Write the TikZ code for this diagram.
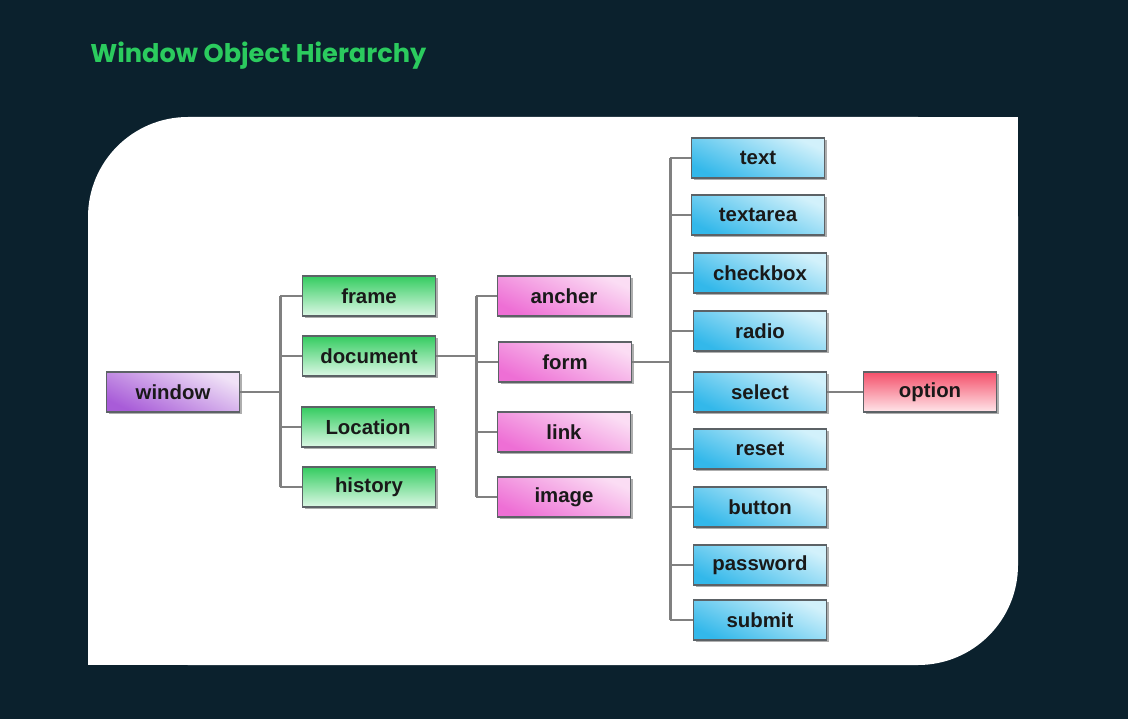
\documentclass[tikz,border=0pt]{standalone}
\usepackage{fontspec}
\setmainfont{Liberation Sans}
\newfontfamily\titlefont{Poppins}
\usetikzlibrary{shadows}

\definecolor{bgnavy}{HTML}{0B212D}
\definecolor{titlegreen}{HTML}{2BCB5E}
\definecolor{linkgray}{HTML}{808080}
\definecolor{boxedge}{HTML}{5C6266}
\definecolor{purpledark}{HTML}{A85CD8}
\definecolor{purplelight}{HTML}{F0E2F7}
\definecolor{greendark}{HTML}{34CC60}
\definecolor{greenlight}{HTML}{DDF8E6}
\definecolor{pinkdark}{HTML}{EE6FD5}
\definecolor{pinklight}{HTML}{FBDDF4}
\definecolor{bluedark}{HTML}{33B8EA}
\definecolor{bluelight}{HTML}{D2F1FB}
\definecolor{reddark}{HTML}{F4506A}
\definecolor{redlight}{HTML}{FFE6EA}

\tikzset{
  box/.style={draw=boxedge, line width=1.1pt, minimum width=2.66cm, minimum height=0.8cm,
    inner sep=0pt, text=black!90, font=\bfseries\fontsize{11.6}{13}\selectfont,
    drop shadow={shadow xshift=1.3pt, shadow yshift=-1.3pt, opacity=0.45, fill=black!70}},
  winbox/.style={box, bottom color=purpledark, top color=purplelight, shading angle=-25},
  greenbox/.style={box, top color=greendark, bottom color=greenlight},
  pinkbox/.style={box, bottom color=pinkdark, top color=pinklight, shading angle=-25},
  bluebox/.style={box, bottom color=bluedark, top color=bluelight, shading angle=-25},
  redbox/.style={box, top color=reddark, bottom color=redlight},
  link/.style={draw=linkgray, line width=1.3pt},
}

\begin{document}
\begin{tikzpicture}[x=0.02cm, y=-0.02cm]
  % Background and panel
  \fill[bgnavy] (0,0) rectangle (1128,719);
  \useasboundingbox (0,0) rectangle (1128,719);
  \fill[white, rounded corners=2cm] (88,117) rectangle (1018,665);
  \fill[white] (918,117) rectangle (1018,217);
  \fill[white] (88,565) rectangle (188,665);

  % Title
  \node[anchor=west, inner sep=0pt, text=titlegreen, font=\titlefont\bfseries\fontsize{14.6}{17}\selectfont]
    (title) at (90,56) {Window Object Hierarchy};

  % Root
  \node[winbox] (window) at (173,392) {window};

  % Level 1 (green)
  \node[greenbox] (frame)    at (369,296) {frame};
  \node[greenbox] (document) at (369,356) {document};
  \node[greenbox] (location) at (368,427) {Location};
  \node[greenbox] (history)  at (369,487) {history};

  % Level 2 (pink)
  \node[pinkbox] (ancher) at (564,296) {ancher};
  \node[pinkbox] (form)   at (565,362) {form};
  \node[pinkbox] (link)   at (564,432) {link};
  \node[pinkbox] (image)  at (564,497) {image};

  % Level 3 (blue)
  \node[bluebox] (text)     at (758,158) {text};
  \node[bluebox] (textarea) at (758,215) {textarea};
  \node[bluebox] (checkbox) at (760,273) {checkbox};
  \node[bluebox] (radio)    at (760,331) {radio};
  \node[bluebox] (select)   at (760,392) {select};
  \node[bluebox] (reset)    at (760,449) {reset};
  \node[bluebox] (button)   at (760,507) {button};
  \node[bluebox] (password) at (760,565) {password};
  \node[bluebox] (submit)   at (760,620) {submit};

  % Level 4 (red)
  \node[redbox] (option) at (930,392) {option};

  % Connectors: window
  \draw[link] (window.east) -- ++(40,0) coordinate (trunkA);
  \draw[link] (trunkA |- frame.west) -- (trunkA |- history.west);
  \foreach \n in {frame,document,location,history}
    \draw[link] (trunkA |- \n.west) -- (\n.west);

  % Connectors: document
  \draw[link] (document.east) -- ++(40,0) coordinate (trunkB);
  \draw[link] (trunkB |- ancher.west) -- (trunkB |- image.west);
  \foreach \n in {ancher,form,link,image}
    \draw[link] (trunkB |- \n.west) -- (\n.west);

  % Connectors: form
  \draw[link] (form.east) -- ++(38,0) coordinate (trunkC);
  \draw[link] (trunkC |- text.west) -- (trunkC |- submit.west);
  \foreach \n in {text,textarea,checkbox,radio,select,reset,button,password,submit}
    \draw[link] (trunkC |- \n.west) -- (\n.west);

  % Connector: select
  \draw[link] (select.east) -- (option.west);
\end{tikzpicture}
\end{document}
